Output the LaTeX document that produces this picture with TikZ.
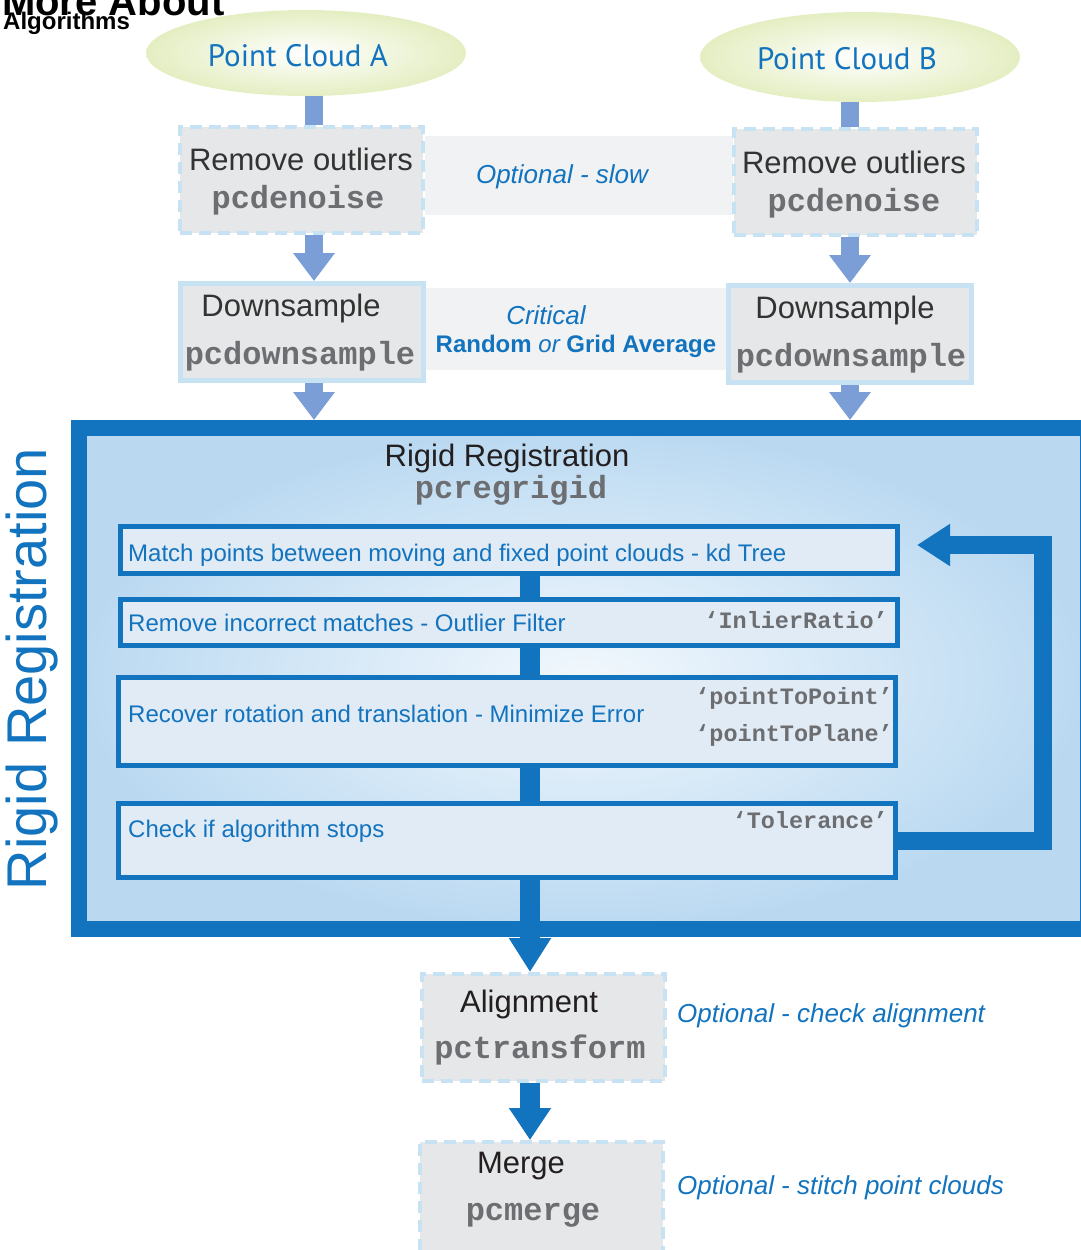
\documentclass[tikz,border=0pt]{standalone}
\usepackage{fontspec}
\setmainfont{Liberation Sans}
\setmonofont{Liberation Mono}
\newfontfamily\ptsans{PT Sans}
\usetikzlibrary{arrows.meta,shapes.geometric}
\definecolor{mblue}{HTML}{1273BE}
\definecolor{lblue}{HTML}{7B9ED6}
\definecolor{dashc}{HTML}{C7E2F3}
\definecolor{gboxfill}{HTML}{E6E7E8}
\definecolor{bandfill}{HTML}{F1F2F3}
\definecolor{ibfill}{HTML}{E1EBF5}
\definecolor{ellc}{HTML}{E4EEC2}
\definecolor{dtext}{HTML}{231F20}
\definecolor{gtext}{HTML}{333333}
\definecolor{mtext}{HTML}{6D6E71}
\definecolor{bgin}{HTML}{F2F8FD}
\definecolor{bgout}{HTML}{BAD9F1}
\newcommand{\myfs}[1]{\fontsize{#1}{#1}\selectfont}
\begin{document}
\begin{tikzpicture}[x=1pt,y=-1pt,
  cloudnode/.style={ellipse, shade, inner color=white, outer color=ellc, draw=none, minimum width=320pt, inner sep=0},
  optbox/.style={rectangle, fill=gboxfill, draw=dashc, line width=4pt, dash pattern=on 12pt off 7pt, inner sep=0, minimum width=243pt},
  solidbox/.style={rectangle, fill=gboxfill, draw=dashc, line width=5pt, inner sep=0, minimum width=243pt, minimum height=97pt},
  band/.style={rectangle, fill=bandfill, inner sep=0},
  innerbox/.style={rectangle, fill=ibfill, draw=mblue, line width=5pt, inner sep=0, minimum width=777pt},
  lconn/.style={line width=18pt, draw=lblue},
  lhead/.style={lconn, -{Triangle[length=28pt,width=40pt]}},
  dconn/.style={line width=20pt, draw=mblue},
  cloudtxt/.style={font=\ptsans\myfs{31}, text=mblue, inner sep=0, anchor=base},
  titletxt/.style={font=\myfs{31}, text=gtext, inner sep=0, anchor=base},
  codetxt/.style={font=\ttfamily\bfseries\myfs{32}, text=mtext, inner sep=0, anchor=base},
  stepdesc/.style={font=\myfs{24}, text=mblue, inner sep=0, anchor=base west},
  paramtxt/.style={font=\ttfamily\bfseries\myfs{23.5}, text=mtext, inner sep=0, anchor=base east},
  notetxt/.style={font=\itshape\myfs{26}, text=mblue, inner sep=0, anchor=base}
]
\useasboundingbox (0,0) rectangle (1080,1250);

% header
\node[font=\bfseries\myfs{40}, anchor=base west, inner sep=0] (hdr1) at (2,15) {More About};
\node[font=\bfseries\myfs{24}, anchor=base west, inner sep=0] (hdr2) at (3,29) {Algorithms};

% bands
\node[band, minimum width=308pt, minimum height=79pt] (band1) at (579,175.5) {};
\node[band, minimum width=300pt, minimum height=82pt] (band2) at (576,329) {};

% clouds
\node[cloudnode, minimum height=86pt] (ca) at (306,53) {};
\node[cloudnode, minimum height=90pt] (cb) at (860,57) {};
\node[cloudtxt] (cat) at (298,66) {Point Cloud A};
\node[cloudtxt] (cbt) at (847,69) {Point Cloud B};

% remove outliers boxes
\node[optbox, minimum height=106pt] (ra) at (301.5,180) {};
\node[optbox, minimum height=106pt] (rb) at (855,182) {};
\node[titletxt] (rat) at (301,170) {Remove outliers};
\node[codetxt] (rac) at (298,208) {pcdenoise};
\node[titletxt] (rbt) at (854,173) {Remove outliers};
\node[codetxt] (rbc) at (854,211) {pcdenoise};
\node[notetxt] (opt1) at (562,183) {Optional - slow};

% downsample boxes
\node[solidbox] (da) at (302,332) {};
\node[solidbox] (db) at (850,334) {};
\node[titletxt] (dat) at (291,316) {Downsample};
\node[codetxt] (dac) at (300,364) {pcdownsample};
\node[titletxt] (dbt) at (845,318) {Downsample};
\node[codetxt] (dbc) at (851,366) {pcdownsample};
\node[notetxt] (crit) at (546,324) {Critical};
\node[font=\myfs{24}, text=mblue, inner sep=0, anchor=base] (rga) at (576,352) {{\bfseries Random} {\itshape or} {\bfseries Grid Average}};

% big registration box
\node[draw=mblue, line width=16pt, shade, inner color=bgin, outer color=bgout, minimum width=1009pt, minimum height=501pt, inner sep=0] (rr) at (583.5,678.5) {};
\node[rotate=90, font=\myfs{56}, text=mblue, inner sep=0] (vlabel) at (32,669) {Rigid Registration};
\node[font=\myfs{31}, text=dtext, inner sep=0, anchor=base] (rrt) at (507,466) {Rigid Registration};
\node[codetxt] (rrc) at (511,498) {pcregrigid};

% inner steps
\node[innerbox, minimum height=47pt] (b1) at (509,550) {};
\node[innerbox, minimum height=46pt] (b2) at (509,622.5) {};
\node[innerbox, minimum height=88pt] (b3) at (507,721.5) {};
\node[innerbox, minimum height=74pt] (b4) at (507,840.5) {};

\node[stepdesc] (b1t) at (128,561) {Match points between moving and fixed point clouds - kd Tree};
\node[stepdesc] (b2t) at (128,631) {Remove incorrect matches - Outlier Filter};
\node[paramtxt] (b2p) at (888,628) {‘InlierRatio’};
\node[stepdesc] (b3t) at (128,722) {Recover rotation and translation - Minimize Error};
\node[paramtxt] (b3p1) at (893,704) {‘pointToPoint’};
\node[paramtxt] (b3p2) at (893,741) {‘pointToPlane’};
\node[stepdesc] (b4t) at (128,837) {Check if algorithm stops};
\node[paramtxt] (b4p) at (888,828) {‘Tolerance’};

% alignment and merge
\node[optbox, minimum height=107pt] (al) at (543.5,1027.5) {};
\node[titletxt, text=dtext] (alt) at (529,1012) {Alignment};
\node[codetxt] (alc) at (540,1058) {pctransform};
\node[notetxt, anchor=base west] (opt2) at (677,1022) {Optional - check alignment};
\node[optbox, minimum height=120pt] (mg) at (541.5,1202) {};
\node[titletxt, text=dtext] (mgt) at (521,1173) {Merge};
\node[codetxt] (mgc) at (533,1220) {pcmerge};
\node[notetxt, anchor=base west] (opt3) at (677,1194) {Optional - stitch point clouds};

% connector x positions
\coordinate (xa) at (314,0);
\coordinate (xb) at (850,0);
\coordinate (xc) at (530,0);

% light connectors
\draw[lconn] (ca.south -| xa) -- (ra.north -| xa);
\draw[lconn] (cb.south -| xb) -- (rb.north -| xb);
\draw[lhead] (ra.south -| xa) -- (da.north -| xa);
\draw[lhead] (rb.south -| xb) -- (db.north -| xb);
\draw[lhead] (da.south -| xa) -- (rr.north -| xa);
\draw[lhead] (db.south -| xb) -- (rr.north -| xb);

% dark connectors
\draw[dconn] (b1.south -| xc) -- (b2.north -| xc);
\draw[dconn] (b2.south -| xc) -- (b3.north -| xc);
\draw[dconn] (b3.south -| xc) -- (b4.north -| xc);
\draw[dconn, -{Triangle[length=34pt,width=40pt]}] (b4.south -| xc) -- (al.north -| xc);
\draw[dconn, -{Triangle[length=32pt,width=40pt]}] (al.south -| xc) -- (mg.north -| xc);

% feedback loop
\coordinate (lp1) at (1043,840);
\coordinate (lp2) at (1043,545);
\draw[line width=18pt, draw=mblue, line join=miter, -{Triangle[length=33pt,width=40pt]}]
  (b4.east) -- (b4.east -| lp1) -- (lp2) -- ([xshift=17pt]b1.east |- lp2);
\end{tikzpicture}
\end{document}
